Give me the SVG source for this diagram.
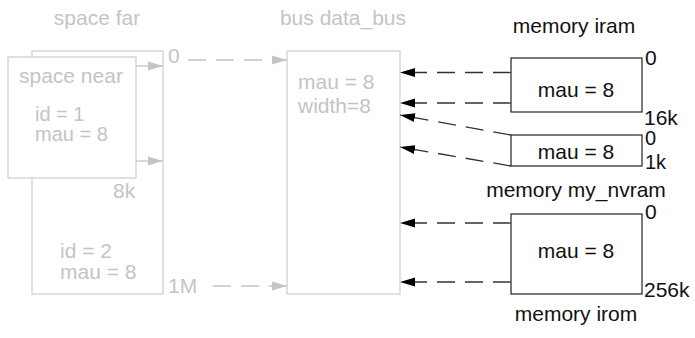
<svg xmlns="http://www.w3.org/2000/svg" width="695" height="338" viewBox="0 0 695 338">
<style>
  text { font-family: "Liberation Sans", Arial, sans-serif; font-size: 21px; }
  .g { fill: #c4c4c4; }
  .k { fill: #111; }
  .s { font-size: 20px; }
  .gbox { fill: #fff; stroke: #cccccc; stroke-width: 1.2; }
  .kbox { fill: #fff; stroke: #222; stroke-width: 1.2; }
  .gl { stroke: #c4c4c4; stroke-width: 1.3; fill: none; }
  .gd { stroke: #c4c4c4; stroke-width: 1.3; fill: none; stroke-dasharray: 18 10; }
  .kd { stroke: #333; stroke-width: 1.3; fill: none; stroke-dasharray: 18 10; }
  .m { text-anchor: middle; }
</style>
<defs>
  <marker id="ag" markerUnits="userSpaceOnUse" markerWidth="16" markerHeight="10" refX="15" refY="5" orient="auto">
    <path d="M0,0.5 L15,5 L0,9.5 Z" fill="#c4c4c4"/>
  </marker>
  <marker id="ak" markerUnits="userSpaceOnUse" markerWidth="16" markerHeight="10" refX="15" refY="5" orient="auto">
    <path d="M0,0.5 L15,5 L0,9.5 Z" fill="#000"/>
  </marker>
</defs>

<g id="space-far">
  <rect class="gbox" x="32" y="51" width="131" height="243"/>
  <text class="g m" x="97" y="25">space far</text>
  <text class="g" x="60" y="258">id = 2</text>
  <text class="g" x="60" y="279">mau = 8</text>
  <text class="g" x="113" y="198">8k</text>
  <text class="g" x="168" y="63">0</text>
  <text class="g" x="168" y="293">1M</text>
</g>

<g id="space-near">
  <rect class="gbox" x="8" y="57" width="128" height="121"/>
  <text class="g" x="19" y="83">space near</text>
  <text class="g s" x="35" y="121">id = 1</text>
  <text class="g s" x="35" y="141">mau = 8</text>
</g>

<g id="bus">
  <rect class="gbox" x="287" y="51" width="113" height="243"/>
  <text class="g m" x="343" y="25">bus data_bus</text>
  <text class="g" x="298" y="89">mau = 8</text>
  <text class="g" x="298" y="113">width=8</text>
</g>

<g id="memory-iram">
  <rect class="kbox" x="511" y="58" width="131" height="54"/>
  <text class="k m" x="574" y="33">memory iram</text>
  <text class="k m" x="576" y="97">mau = 8</text>
  <text class="k" x="645" y="65">0</text>
  <text class="k" x="644" y="125">16k</text>
</g>

<g id="memory-small">
  <rect class="kbox" x="511" y="135" width="131" height="31"/>
  <text class="k m" x="576" y="159">mau = 8</text>
  <text class="k s" x="645" y="145">0</text>
  <text class="k s" x="645" y="169">1k</text>
</g>

<g id="memory-nvram">
  <rect class="kbox" x="511" y="214" width="131" height="80"/>
  <text class="k m" x="576" y="197">memory my_nvram</text>
  <text class="k m" x="576" y="258">mau = 8</text>
  <text class="k" x="645" y="219">0</text>
  <text class="k" x="644" y="297">256k</text>
</g>

<g id="memory-irom">
  <text class="k m" x="576" y="321">memory irom</text>
</g>

<g id="connectors">
  <line class="gl" x1="136" y1="66" x2="163" y2="66" marker-end="url(#ag)"/>
  <line class="gl" x1="136" y1="161" x2="163" y2="161" marker-end="url(#ag)"/>
  <line class="gd" x1="188" y1="60" x2="287" y2="60" marker-end="url(#ag)"/>
  <line class="gd" x1="213" y1="286" x2="287" y2="286" marker-end="url(#ag)"/>
  <line class="kd" x1="511" y1="72.5" x2="400" y2="72.5" marker-end="url(#ak)"/>
  <line class="kd" x1="511" y1="103" x2="400" y2="103" marker-end="url(#ak)"/>
  <line class="kd" x1="511" y1="135" x2="400" y2="115" marker-end="url(#ak)"/>
  <line class="kd" x1="511" y1="166" x2="400" y2="147" marker-end="url(#ak)"/>
  <line class="kd" x1="511" y1="223" x2="400" y2="223" marker-end="url(#ak)"/>
  <line class="kd" x1="511" y1="282" x2="400" y2="282" marker-end="url(#ak)"/>
</g>
</svg>
